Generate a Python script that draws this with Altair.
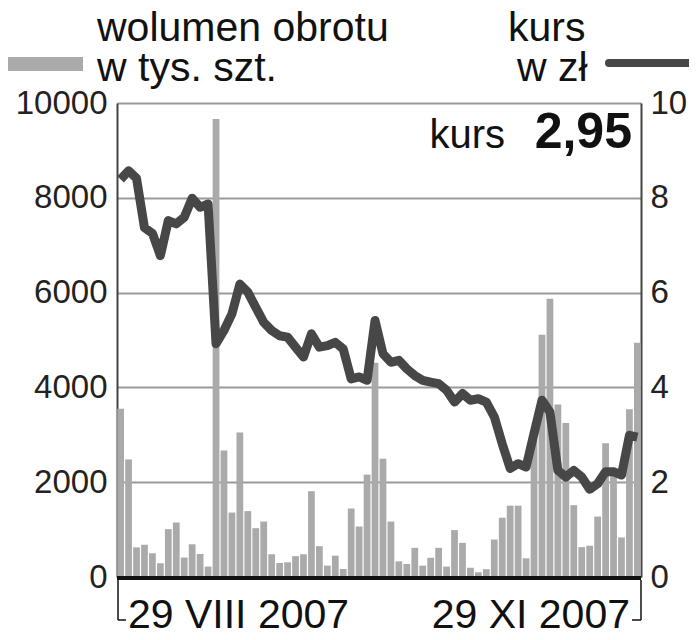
import altair as alt
import pandas as pd

# session index (66 trading sessions, 29 VIII 2007 - 29 XI 2007)
sesja = list(range(1, 67))

wolumen = [3550, 2480, 625, 680, 500, 290, 1010, 1150, 410, 690,
           485, 220, 9660, 2670, 1360, 3050, 1390, 1030, 1170, 480,
           295, 310, 440, 480, 1810, 650, 240, 450, 170, 1445,
           1065, 2160, 4520, 2495, 1170, 330, 275, 615, 240, 405,
           615, 220, 990, 720, 195, 100, 165, 790, 1250, 1505,
           1505, 395, 2900, 5110, 5870, 3640, 3250, 1515, 630, 660,
           1275, 2820, 2150, 835, 3540, 4940]

kurs = [8.39, 8.57, 8.41, 7.37, 7.25, 6.78, 7.52, 7.45, 7.59, 7.99,
        7.80, 7.87, 4.92, 5.20, 5.55, 6.18, 6.01, 5.69, 5.37, 5.20,
        5.09, 5.06, 4.85, 4.64, 5.13, 4.85, 4.88, 4.95, 4.81, 4.18,
        4.22, 4.15, 5.41, 4.71, 4.53, 4.57, 4.39, 4.25, 4.15, 4.11,
        4.08, 3.94, 3.69, 3.87, 3.73, 3.76, 3.69, 3.38, 2.81, 2.29,
        2.39, 2.32, 3.03, 3.73, 3.48, 2.25, 2.11, 2.25, 2.11, 1.85,
        1.97, 2.22, 2.22, 2.15, 2.99, 2.95]

left_ticks = [0, 2000, 4000, 6000, 8000, 10000]
right_ticks = [0, 2, 4, 6, 8, 10]

legend_vol = ["wolumen obrotu", "w tys. szt."]
legend_kurs = ["kurs", "w zł"]

FONT = "Liberation Sans"
AXFONT = "Liberation Sans"

df = pd.DataFrame({"sesja": sesja, "wolumen": wolumen, "kurs": kurs})
one = pd.DataFrame({"k": [0]})

W, H = 524, 474

xenc = alt.X("sesja:O", axis=None,
             scale=alt.Scale(paddingInner=0.15, paddingOuter=0.03))

bars = alt.Chart(df).mark_bar(color="#aaaaaa").encode(
    x=xenc,
    y=alt.Y("wolumen:Q", scale=alt.Scale(domain=[0, 10000]),
            axis=alt.Axis(orient="left", values=left_ticks, title=None,
                          grid=True, gridColor="#9a9a9a", gridWidth=2,
                          domainColor="#444444", domainWidth=2, ticks=False,
                          labelFont=AXFONT, labelFontSize=33,
                          labelFontWeight=300, labelColor="#222222",
                          labelPadding=10, format="d")),
)

line = alt.Chart(df).mark_line(color="#474747", strokeWidth=9,
                               strokeJoin="round").encode(
    x=xenc,
    y=alt.Y("kurs:Q", scale=alt.Scale(domain=[0, 10]),
            axis=alt.Axis(orient="right", values=right_ticks, title=None,
                          grid=False, domainColor="#444444", domainWidth=2,
                          ticks=False, labelFont=AXFONT, labelFontSize=33,
                          labelFontWeight=300, labelColor="#222222",
                          labelPadding=9)),
)


def txt(s, x, y, size, weight="normal", align="left", baseline="alphabetic"):
    return alt.Chart(one).mark_text(
        text=s, font=FONT, fontSize=size, fontWeight=weight, align=align,
        baseline=baseline, color="#111111", lineHeight=40
    ).encode(x=alt.value(x), y=alt.value(y))


def rule(x1, x2, y1, y2, width, color="#111111", cap="butt"):
    return alt.Chart(one).mark_rule(color=color, strokeWidth=width,
                                    strokeCap=cap).encode(
        x=alt.value(x1), x2=alt.value(x2), y=alt.value(y1), y2=alt.value(y2))


legend_bar = alt.Chart(one).mark_rect(color="#aaaaaa").encode(
    x=alt.value(-109), x2=alt.value(-34), y=alt.value(-46), y2=alt.value(-32))

annotations = [
    txt(legend_vol, -20, -94, 41, baseline="top"),
    txt(legend_kurs[0], 391, -94, 41, baseline="top"),
    txt(legend_kurs[1], 400, -54, 41, baseline="top"),
    legend_bar,
    rule(492, 580, -40, -40, 8, color="#474747", cap="round"),
    txt("kurs", 388, 45, 40, align="right"),
    txt("2,95", 515, 45, 50, weight="bold", align="right"),
    # bottom axis line and date bracket
    rule(0, W, H + 1, H + 1, 4),
    rule(1, 1, H + 3, H + 43, 1.5),
    rule(1, 9, H + 43, H + 43, 1.5),
    rule(W, W, H + 3, H + 43, 1.5),
    rule(W - 9, W, H + 43, H + 43, 1.5),
    txt("29 VIII 2007", 11, H + 51, 41),
    txt("29 XI 2007", 513, H + 51, 41, align="right"),
]

chart = alt.layer(bars, line, *annotations).resolve_scale(
    y="independent"
).properties(
    width=W, height=H,
    padding={"left": 109, "top": 95, "right": 48, "bottom": 60},
    autosize=alt.AutoSizeParams(type="none"),
).configure_view(stroke=None)

chart.save("out.html", embed_options={"renderer": "svg", "actions": False})
